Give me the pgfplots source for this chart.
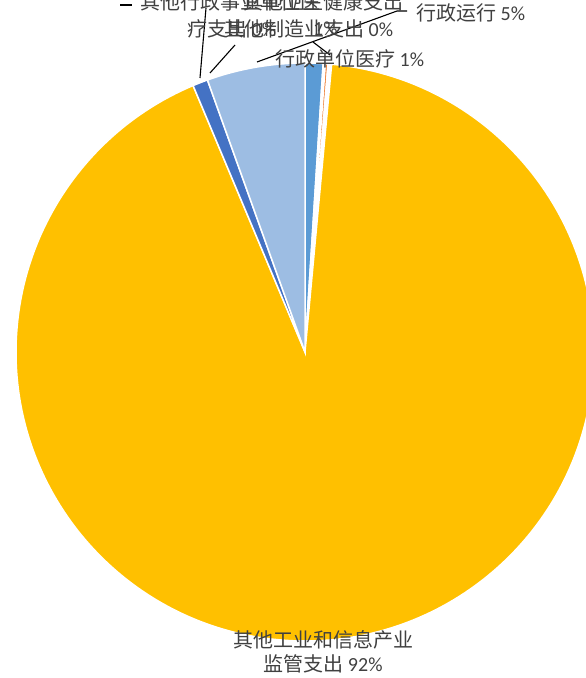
\documentclass[border=0pt]{standalone}
\usepackage{pgfplots}
\pgfplotsset{compat=1.18}
\usepackage{pgfplotstable}
\usepackage{fontspec}
\setmainfont{Carlito}
\newfontfamily\cjk{Noto Sans CJK SC}
\definecolor{gold}{HTML}{FFC000}
\definecolor{mblue}{HTML}{5B9BD5}
\definecolor{orng}{HTML}{ED7D31}
\definecolor{dblue}{HTML}{4472C4}
\definecolor{lblue}{HTML}{9DBDE3}
\definecolor{txt}{HTML}{404040}
\pgfplotstableread{
value color
1.00 mblue
0.12 white
0.15 orng
0.20 white
92.20 gold
0.85 dblue
5.48 lblue
}\piedata
\begin{document}
\begin{tikzpicture}
\useasboundingbox (0,0) rectangle (586pt,678pt);
\begin{axis}[at={(0,0)},anchor=south west,x=1pt,y=1pt,
  xmin=0,xmax=586,ymin=0,ymax=678,hide axis,scale only axis]
\def\cum{90}
\pgfplotsforeachungrouped \i in {0,...,6}{%
  \pgfplotstablegetelem{\i}{value}\of\piedata \let\sliceval\pgfplotsretval
  \pgfplotstablegetelem{\i}{color}\of\piedata \let\slicecol\pgfplotsretval
  \pgfmathsetmacro\endang{\cum - 3.6*\sliceval}%
  \edef\temp{\noexpand\draw[white, line width=1.5pt, fill=\slicecol] (axis cs:305,326) -- ++(\cum:289pt) arc[start angle=\cum, end angle=\endang, radius=289pt] -- cycle;}%
  \temp
  \global\let\cum\endang
}
\draw[black, line width=1.1pt] (axis cs:200,600) -- (axis cs:206,670);
\draw[black, line width=1.1pt] (axis cs:210,605) -- (axis cs:235,633);
\draw[black, line width=1.1pt] (axis cs:257,616) -- (axis cs:397,667) -- (axis cs:407,667);
\draw[black, line width=1.1pt] (axis cs:313,636) -- (axis cs:330,623);
\draw[black, line width=1.1pt] (axis cs:120,673) -- (axis cs:132,673);
\begin{scope}[every node/.style={inner sep=0pt, text=txt, font=\fontsize{20}{24}\selectfont}]
\node[anchor=center] at (axis cs:323,38) {{\cjk 其他工业和信息产业}};
\node[anchor=center] at (axis cs:323,14) {{\cjk 监管支出} 92\%};
\node[anchor=west] at (axis cs:416,665) {{\cjk 行政运行} 5\%};
\node[anchor=west] at (axis cs:275,619) {{\cjk 行政单位医疗} 1\%};
\node[anchor=west] at (axis cs:224,649) {{\cjk 其他制造业支出} 0\%};
\node[anchor=west] at (axis cs:187,649) {{\cjk 疗支出} 0\%};
\node[anchor=west] at (axis cs:140,676) {{\cjk 其他行政事业单位医}};
\node[anchor=west] at (axis cs:243,676) {{\cjk 其他卫生健康支出}};
\node[anchor=west] at (axis cs:313,649) {1\%};
\end{scope}
\end{axis}
\end{tikzpicture}
\end{document}
